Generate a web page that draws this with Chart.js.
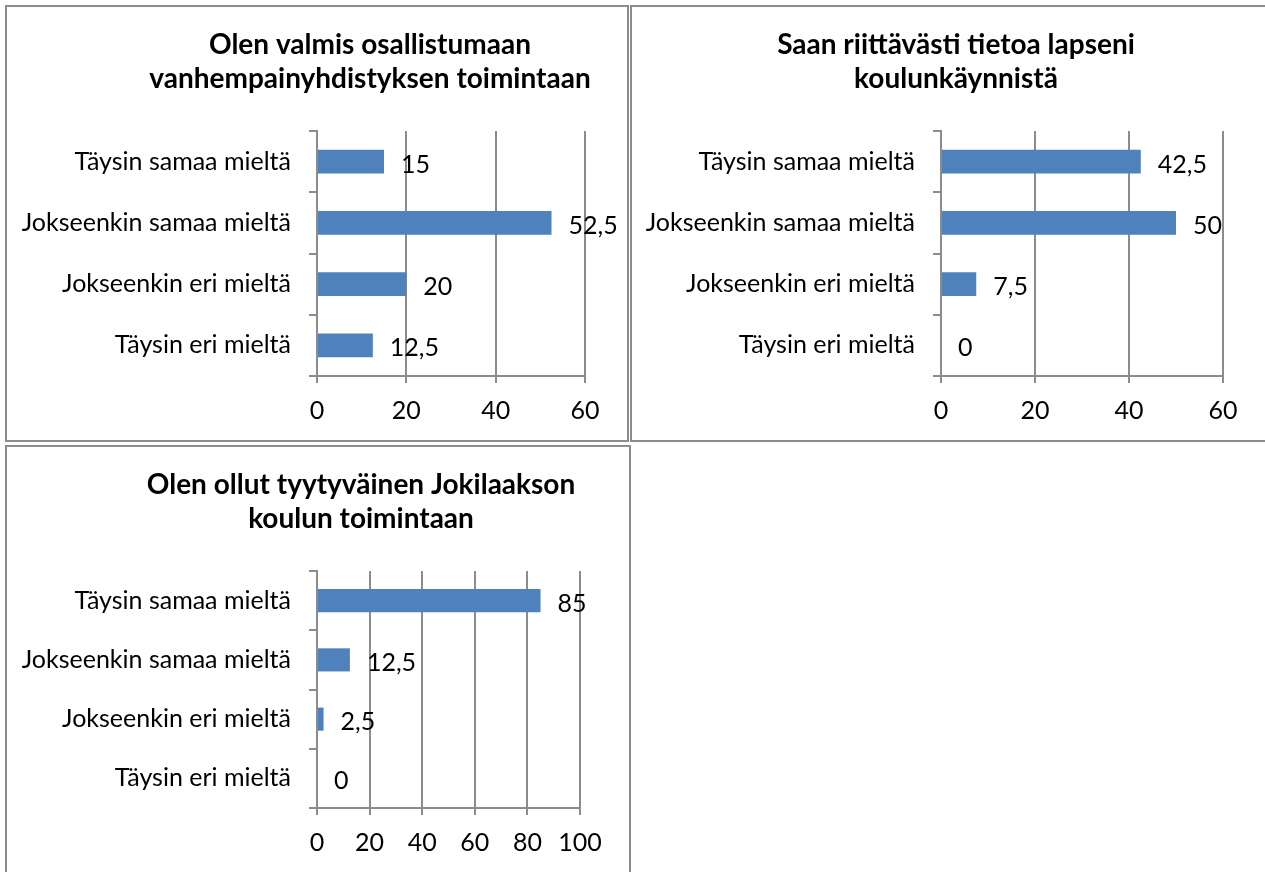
<!DOCTYPE html>
<html><head><meta charset="utf-8">
<script src="https://cdn.jsdelivr.net/npm/chart.js@4.4.1/dist/chart.umd.min.js"></script>
<style>
html,body{margin:0;padding:0;background:#fff;width:1265px;height:872px;overflow:hidden;position:relative}
.panel{position:absolute;box-sizing:border-box;border:2px solid #8c8c8c;}
canvas{position:absolute;}
</style></head><body>
<div class="panel" style="left:5px;top:5px;width:624px;height:437px"></div>
<div class="panel" style="left:630px;top:5px;width:700px;height:437px"></div>
<div class="panel" style="left:5px;top:445px;width:626px;height:500px"></div>
<canvas id="c1" width="620" height="433" style="left:7px;top:7px"></canvas>
<canvas id="c2" width="632" height="433" style="left:632px;top:7px"></canvas>
<canvas id="c3" width="622" height="425" style="left:7px;top:447px"></canvas>
<script>
// ---- data ----
const categories = ['Täysin samaa mieltä', 'Jokseenkin samaa mieltä', 'Jokseenkin eri mieltä', 'Täysin eri mieltä'];
const valmisTitle = ['Olen valmis osallistumaan', 'vanhempainyhdistyksen toimintaan'];
const valmisValues = [15, 52.5, 20, 12.5];
const valmisTicks = [0, 20, 40, 60];
const tietoaTitle = ['Saan riittävästi tietoa lapseni', 'koulunkäynnistä'];
const tietoaValues = [42.5, 50, 7.5, 0];
const tietoaTicks = [0, 20, 40, 60];
const tyytyvainenTitle = ['Olen ollut tyytyväinen Jokilaakson', 'koulun toimintaan'];
const tyytyvainenValues = [85, 12.5, 2.5, 0];
const tyytyvainenTicks = [0, 20, 40, 60, 80, 100];

// ---- style ----
const FONT = 'Lato, Carlito, Calibri, sans-serif';
const LABEL_SIZE = 25;
const TITLE_SIZE = 28;
const BAR_COLOR = '#4F81BD';
const GRID_COLOR = '#8c8c8c';

const valueLabels = {
  id: 'valueLabels',
  afterDatasetsDraw(chart) {
    const ctx = chart.ctx;
    const meta = chart.getDatasetMeta(0);
    const data = chart.data.datasets[0].data;
    ctx.save();
    ctx.font = LABEL_SIZE + 'px ' + FONT;
    ctx.fillStyle = '#000';
    ctx.textAlign = 'left';
    ctx.textBaseline = 'middle';
    meta.data.forEach((bar, i) => {
      ctx.fillText(String(data[i]).replace('.', ','), bar.x + 17, bar.y + 3);
    });
    ctx.restore();
  }
};

// centre the title block on a given x (canvas coordinates)
const titleCentre = {
  id: 'titleCentre',
  afterLayout(chart, args, opts) {
    const t = chart.titleBlock;
    if (t && opts.x != null) {
      const half = chart.width / 2;
      t.left = opts.x - half;
      t.right = opts.x + half;
    }
  }
};

function makeChart(id, title, values, ticks, padRight, yWidth, titleX) {
  return new Chart(document.getElementById(id), {
    type: 'bar',
    data: {
      labels: categories,
      datasets: [{
        data: values,
        backgroundColor: BAR_COLOR,
        borderWidth: 0,
        categoryPercentage: 1,
        barPercentage: 0.39
      }]
    },
    options: {
      indexAxis: 'y',
      responsive: false,
      animation: false,
      devicePixelRatio: 1,
      layout: { padding: { left: 0, right: padRight, top: 0, bottom: 14 } },
      plugins: {
        legend: { display: false },
        tooltip: { enabled: false },
        titleCentre: { x: titleX },
        title: {
          display: true,
          text: title,
          color: '#000',
          font: { family: FONT, size: TITLE_SIZE, weight: 'bold', lineHeight: 34 / 28 },
          padding: { top: 20.5, bottom: 35.5 }
        }
      },
      scales: {
        x: {
          min: ticks[0],
          max: ticks[ticks.length - 1],
          ticks: { stepSize: ticks[1] - ticks[0], color: '#000', padding: 13,
                   font: { family: FONT, size: LABEL_SIZE } },
          grid: { color: GRID_COLOR, lineWidth: 2, tickLength: 7 },
          border: { color: GRID_COLOR, width: 2 },
          afterFit(s) { s.height = 50; s.paddingLeft = 0; s.paddingRight = 0; }
        },
        y: {
          ticks: { color: '#000', padding: 18, font: { family: FONT, size: LABEL_SIZE } },
          grid: { offset: true, drawOnChartArea: false, drawTicks: true, tickLength: 8, color: GRID_COLOR, lineWidth: 2 },
          border: { color: GRID_COLOR, width: 2 },
          afterFit(s) { s.width = yWidth; s.paddingTop = 0; s.paddingBottom = 0; }
        }
      }
    },
    plugins: [valueLabels, titleCentre]
  });
}

makeChart('c1', valmisTitle, valmisValues, valmisTicks, 42, 310, 363);
makeChart('c2', tietoaTitle, tietoaValues, tietoaTicks, 41, 309, 324);
makeChart('c3', tyytyvainenTitle, tyytyvainenValues, tyytyvainenTicks, 49, 310, 354);
</script>
</body></html>
